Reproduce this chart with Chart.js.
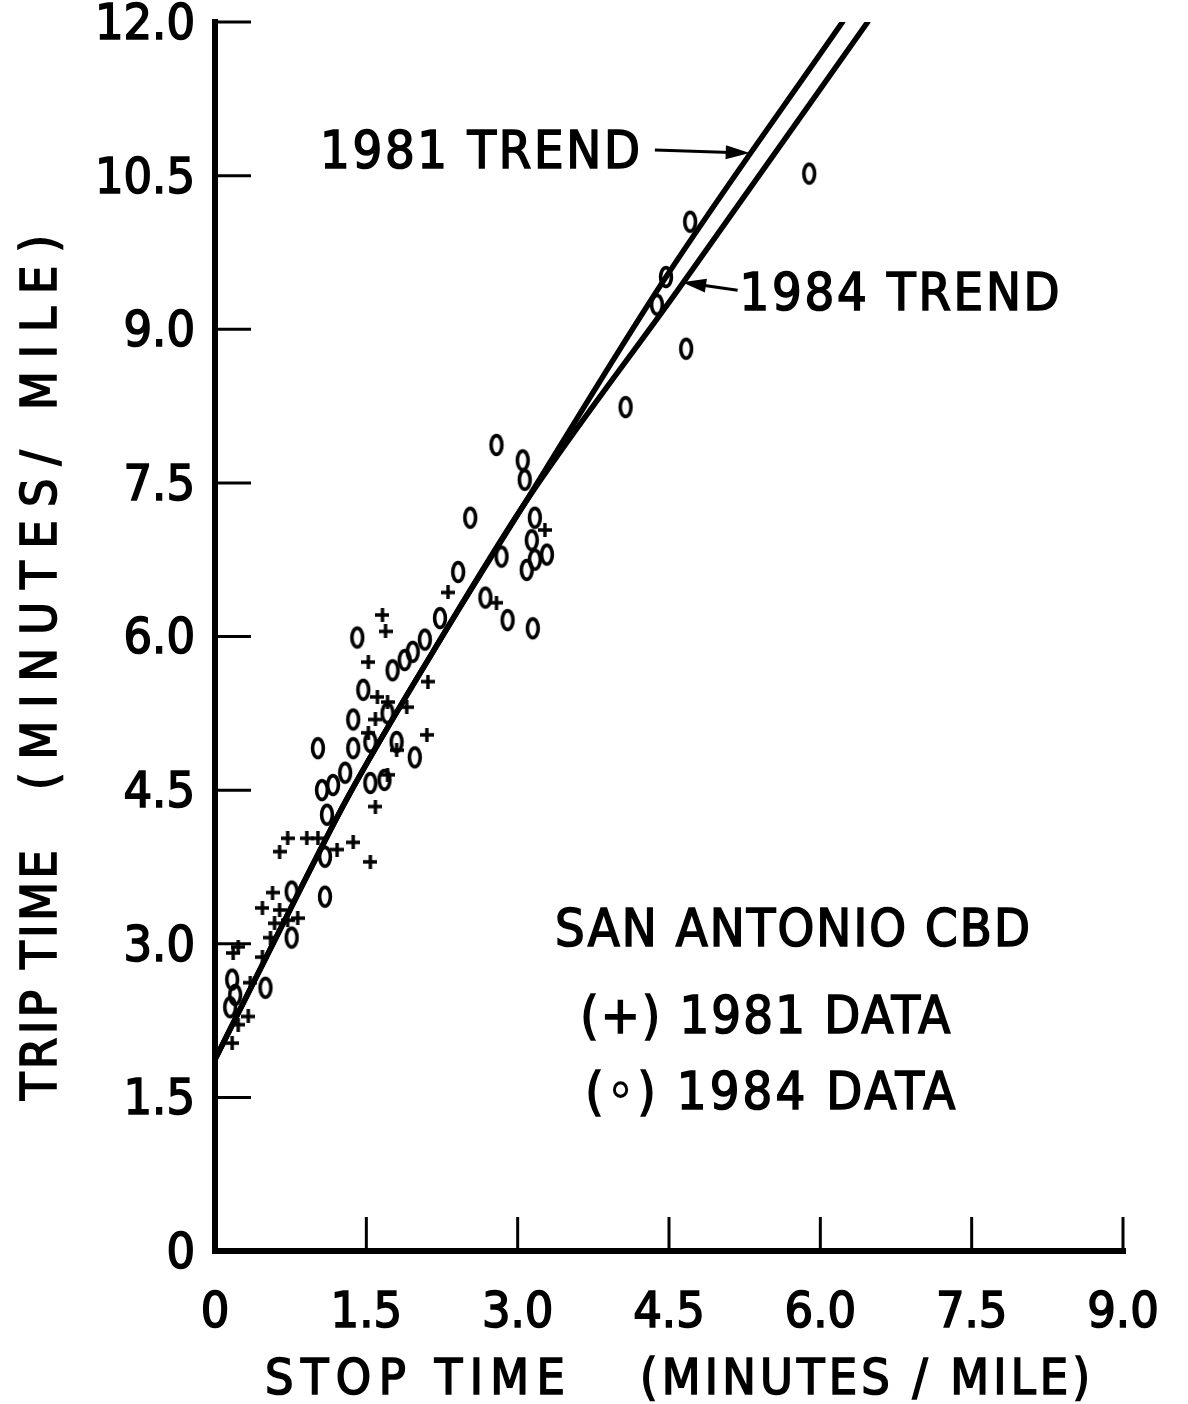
<!DOCTYPE html>
<html><head><meta charset="utf-8">
<script src="https://cdn.jsdelivr.net/npm/chart.js@4"></script>
<style>html,body{margin:0;padding:0;background:#fff}</style>
</head><body>
<canvas id="c" width="1188" height="1404" style="width:1188px;height:1404px;display:block"></canvas>
<script>
const xTickValues = [0, 1.5, 3, 4.5, 6, 7.5, 9];
const xTickLabels = ['0', '1.5', '3.0', '4.5', '6.0', '7.5', '9.0'];
const yTickValues = [0, 1.5, 3, 4.5, 6, 7.5, 9, 10.5, 12];
const yTickLabels = ['0', '1.5', '3.0', '4.5', '6.0', '7.5', '9.0', '10.5', '12.0'];
const xTitleParts = ['STOP TIME', '(MINUTES / MILE)'];
const yTitleParts = ['TRIP TIME', '(MINUTES/ MILE)'];

// 1981 data (+)
const data1981X = [1.66,1.69,1.52,2.31,1.61,1.71,2.11,1.59,1.52,2.10,1.80,1.59,1.71,1.90,3.27,2.79,
  0.72,0.91,1.02,0.64,1.37,1.21,1.54,0.57,0.47,0.64,0.82,0.72,0.59,0.55,0.23,0.18,0.47,0.35,0.33,0.23,0.17];
const data1981Y = [6.21,6.05,5.75,6.43,5.41,5.36,5.56,5.19,5.06,5.04,4.89,4.34,4.65,5.31,7.04,6.33,
  4.03,4.03,4.03,3.90,3.99,3.92,3.80,3.50,3.35,3.33,3.25,3.23,3.20,3.06,2.97,2.91,2.87,2.62,2.29,2.21,2.03];

// 1984 data (o)
const data1984X = [5.89,4.71,4.38,4.47,4.67,4.07,
  2.79,3.05,3.07,2.53,3.17,3.14,3.29,3.17,3.09,2.84,2.41,2.68,2.90,3.15,
  2.23,2.08,1.96,1.88,1.76,1.41,1.47,1.37,1.37,1.02,1.80,1.98,1.54,1.71,1.06,1.17,1.29,1.54,1.68,1.11,
  1.09,1.09,0.76,0.76,0.17,0.20,0.15,0.50];
const data1984Y = [10.52,10.05,9.24,9.51,8.81,8.24,
  7.87,7.72,7.53,7.16,7.16,6.94,6.80,6.75,6.65,6.78,6.63,6.38,6.16,6.08,
  6.18,5.97,5.85,5.77,5.67,5.99,5.48,5.19,4.91,4.91,4.97,4.82,4.97,5.25,4.50,4.55,4.67,4.57,4.60,4.26,
  3.85,3.46,3.51,3.06,2.65,2.50,2.38,2.57];

// trend curves
const trend1981X = [0, 0.87, 1.31, 2.16, 3.07, 4.47, 6.22];
const trend1981Y = [1.87, 3.58, 4.42, 5.85, 7.30, 9.51, 12.0];
const trend1984X = [0, 0.87, 1.31, 2.16, 3.07, 4.60, 6.47];
const trend1984Y = [1.87, 3.58, 4.42, 5.85, 7.30, 9.40, 12.0];

const FONT = "'DejaVu Sans Condensed', 'DejaVu Sans', sans-serif";
const zip = (xs, ys) => xs.map((x, i) => ({x, y: ys[i]}));

function makeO() {
  const c = document.createElement('canvas'); c.width = 18; c.height = 26;
  const g = c.getContext('2d');
  g.strokeStyle = '#000'; g.lineWidth = 3.6;
  g.beginPath(); g.ellipse(9, 13, 5.4, 9.4, 0, 0, Math.PI * 2); g.stroke();
  return c;
}
function makePlus() {
  const c = document.createElement('canvas'); c.width = 14; c.height = 14;
  const g = c.getContext('2d');
  g.strokeStyle = '#000'; g.lineWidth = 3.4; g.lineCap = 'butt';
  g.beginPath(); g.moveTo(0, 7); g.lineTo(14, 7); g.moveTo(7, 0); g.lineTo(7, 14); g.stroke();
  return c;
}

function spacedText(ctx, text, x, y, width) {
  ctx.letterSpacing = '0px';
  const w = ctx.measureText(text).width;
  const n = text.length - 1;
  const ls = n > 0 ? (width - w) / n : 0;
  ctx.letterSpacing = ls + 'px';
  ctx.fillText(text, x, y);
  ctx.strokeText(text, x, y);
  ctx.letterSpacing = '0px';
}

const decor = {
  id: 'decor',
  beforeDatasetsDraw(chart) {
    const {ctx, scales: {x, y}} = chart;
    ctx.save();
    ctx.strokeStyle = '#000'; ctx.lineCap = 'square';
    ctx.lineWidth = 6;
    ctx.beginPath();
    ctx.moveTo(x.getPixelForValue(0), y.getPixelForValue(12));
    ctx.lineTo(x.getPixelForValue(0), y.getPixelForValue(0));
    ctx.lineTo(x.getPixelForValue(9), y.getPixelForValue(0));
    ctx.stroke();
    ctx.lineWidth = 3; ctx.lineCap = 'butt';
    const x0 = x.getPixelForValue(0), y0 = y.getPixelForValue(0);
    yTickValues.forEach(v => {
      if (v === 0) return;
      const py = y.getPixelForValue(v);
      ctx.beginPath(); ctx.moveTo(x0, py); ctx.lineTo(x0 + 36, py); ctx.stroke();
    });
    xTickValues.forEach(v => {
      if (v === 0) return;
      const px = x.getPixelForValue(v);
      ctx.beginPath(); ctx.moveTo(px, y0); ctx.lineTo(px, y0 - 34); ctx.stroke();
    });
    ctx.restore();
  },
  afterDraw(chart) {
    const {ctx, scales: {x, y}} = chart;
    const X = v => x.getPixelForValue(v), Y = v => y.getPixelForValue(v);
    ctx.save();
    ctx.fillStyle = '#000'; ctx.strokeStyle = '#000'; ctx.lineWidth = 1.6;
    ctx.font = '52px ' + FONT;
    ctx.textBaseline = 'middle';
    ctx.textAlign = 'left';
    const cap = 2;
    spacedText(ctx, '1981 TREND', X(1.04), Y(10.73) + cap, 320);
    spacedText(ctx, '1984 TREND', X(5.20), Y(9.34) + cap, 320);
    spacedText(ctx, 'SAN ANTONIO CBD', X(3.37), Y(3.13) + cap, 475);
    spacedText(ctx, '(+) 1981 DATA', X(3.62), Y(2.28) + cap, 370);
    spacedText(ctx, '(◦) 1984 DATA', X(3.67), Y(1.54) + cap, 370);
    // axis titles
    ctx.font = '50px ' + FONT;
    spacedText(ctx, xTitleParts[0], 265, 1381, 300);
    spacedText(ctx, xTitleParts[1], 640, 1381, 450);
    ctx.save();
    ctx.translate(43, 0);
    ctx.rotate(-Math.PI / 2);
    spacedText(ctx, yTitleParts[0], -1100, 0, 250);
    spacedText(ctx, yTitleParts[1], -790, 0, 555);
    ctx.restore();
    function arrow(ax, ay, bx, by) {
      const x1 = X(ax), y1 = Y(ay), x2 = X(bx), y2 = Y(by);
      const ang = Math.atan2(y2 - y1, x2 - x1);
      const L = 24, W = 7;
      ctx.lineWidth = 3;
      ctx.beginPath(); ctx.moveTo(x1, y1);
      ctx.lineTo(x2 - L * 0.8 * Math.cos(ang), y2 - L * 0.8 * Math.sin(ang)); ctx.stroke();
      ctx.beginPath();
      ctx.moveTo(x2, y2);
      ctx.lineTo(x2 - L * Math.cos(ang) + W * Math.sin(ang), y2 - L * Math.sin(ang) - W * Math.cos(ang));
      ctx.lineTo(x2 - L * Math.cos(ang) - W * Math.sin(ang), y2 - L * Math.sin(ang) + W * Math.cos(ang));
      ctx.closePath(); ctx.fill();
    }
    arrow(4.36, 10.75, 5.30, 10.72);
    arrow(5.18, 9.38, 4.63, 9.46);
    ctx.restore();
  }
};

const oImg = makeO(), plusImg = makePlus();

new Chart(document.getElementById('c'), {
  type: 'scatter',
  data: {
    datasets: [
      {label: '1981 TREND', data: zip(trend1981X, trend1981Y), showLine: true, borderColor: '#000',
       borderWidth: 5.5, pointRadius: 0, cubicInterpolationMode: 'monotone', fill: false, borderCapStyle: 'round'},
      {label: '1984 TREND', data: zip(trend1984X, trend1984Y), showLine: true, borderColor: '#000',
       borderWidth: 5.5, pointRadius: 0, cubicInterpolationMode: 'monotone', fill: false, borderCapStyle: 'round'},
      {label: '1981 DATA', data: zip(data1981X, data1981Y), pointStyle: plusImg, pointRadius: 7},
      {label: '1984 DATA', data: zip(data1984X, data1984Y), pointStyle: oImg, pointRadius: 9}
    ]
  },
  options: {
    responsive: false, animation: false, devicePixelRatio: 1,
    layout: {padding: {top: 22, right: 65, left: 0, bottom: 0}},
    plugins: {legend: {display: false}, tooltip: {enabled: false}},
    scales: {
      x: {
        type: 'linear', min: 0, max: 9,
        afterBuildTicks: s => { s.ticks = xTickValues.map(v => ({value: v})); },
        afterFit: s => { s.height = 153; s.paddingLeft = 0; s.paddingRight = 0; },
        grid: {display: false}, border: {display: false},
        ticks: {autoSkip: false, maxRotation: 0, padding: 25, color: '#000',
                textStrokeColor: '#000', textStrokeWidth: 1.6,
                font: {family: FONT, size: 50}, callback: (v, i) => xTickLabels[i]},
        title: {display: false}
      },
      y: {
        type: 'linear', min: 0, max: 12,
        afterBuildTicks: s => { s.ticks = yTickValues.map(v => ({value: v})); },
        afterFit: s => { s.width = 215; s.paddingTop = 0; s.paddingBottom = 0; },
        grid: {display: false}, border: {display: false},
        ticks: {autoSkip: false, padding: 12, labelOffset: 4, color: '#000',
                textStrokeColor: '#000', textStrokeWidth: 1.6,
                font: {family: FONT, size: 50}, callback: (v, i) => yTickLabels[i]},
        title: {display: false}
      }
    }
  },
  plugins: [decor]
});
</script>
</body></html>
